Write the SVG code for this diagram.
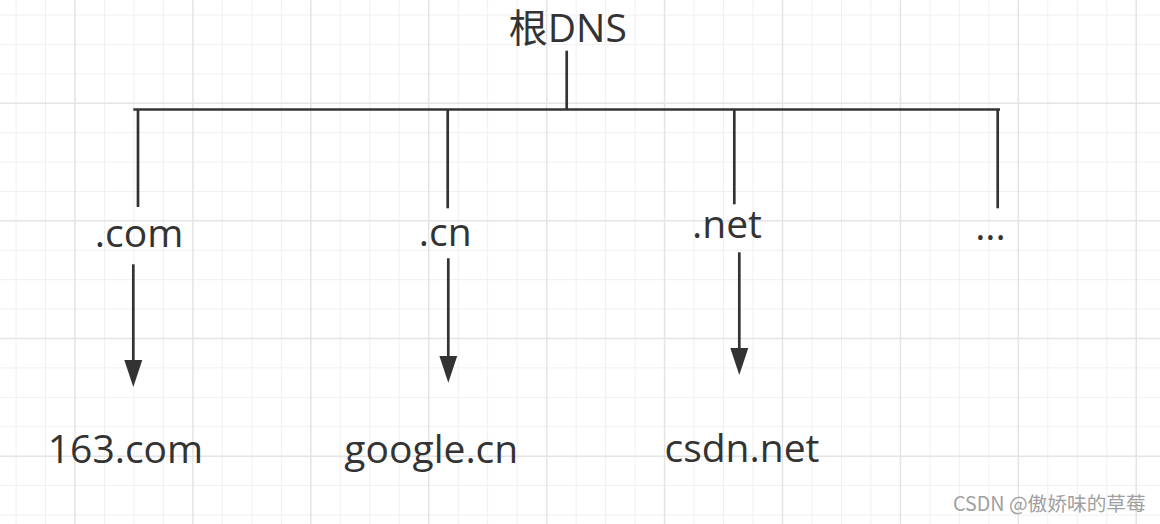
<svg xmlns="http://www.w3.org/2000/svg" width="1160" height="524" viewBox="0 0 1160 524">
<defs>
<style>
.minor{stroke:#f0f0f0;stroke-width:1;fill:none}
.major{stroke:#e4e4e4;stroke-width:1.5;fill:none}
.ln{stroke:#333;stroke-width:2.7;fill:none}
.lbl{font-family:"Open Sans","Noto Sans CJK SC",sans-serif;font-size:39px;fill:#333;text-anchor:middle}
.wm{font-family:"Noto Sans CJK SC",sans-serif;font-size:19.7px;fill:#a0a0a0}
</style>
<marker id="ah" markerUnits="userSpaceOnUse" markerWidth="28" markerHeight="20" viewBox="0 -10 28 20" refX="7" refY="0" orient="auto">
<path d="M0,-9 L27,0 L0,9 Z" fill="#333"/>
</marker>
</defs>
<rect width="1160" height="524" fill="#fff"/>
<g id="grid">
<path class="minor" d="M16,0V524M45.48,0V524M104.44,0V524M133.92,0V524M163.4,0V524M222.36,0V524M251.84,0V524M281.32,0V524M340.28,0V524M369.76,0V524M399.24,0V524M458.2,0V524M487.68,0V524M517.16,0V524M576.12,0V524M605.6,0V524M635.08,0V524M694.04,0V524M723.52,0V524M753,0V524M811.96,0V524M841.44,0V524M870.92,0V524M929.88,0V524M959.36,0V524M988.84,0V524M1047.8,0V524M1077.28,0V524M1106.76,0V524
M0,15H1160M0,44.41H1160M0,73.82H1160M0,132.64H1160M0,162.05H1160M0,191.46H1160M0,250.28H1160M0,279.69H1160M0,309.1H1160M0,367.92H1160M0,397.33H1160M0,426.74H1160M0,485.56H1160M0,514.97H1160"/>
<path class="major" d="M74.96,0V524M192.88,0V524M310.8,0V524M428.72,0V524M546.64,0V524M664.56,0V524M782.48,0V524M900.4,0V524M1018.32,0V524M1136.24,0V524
M0,103.23H1160M0,220.87H1160M0,338.51H1160M0,456.15H1160"/>
</g>
<g id="connectors">
<path class="ln" d="M566.7,50.7V109.5"/>
<path class="ln" d="M133.3,109.5H1000"/>
<path class="ln" d="M138,109.5V207"/>
<path class="ln" d="M447.7,109.5V208.3"/>
<path class="ln" d="M734.3,109.5V204.3"/>
<path class="ln" d="M997.7,109.5V208.3"/>
<path class="ln" d="M133.3,264.3V367" marker-end="url(#ah)"/>
<path class="ln" d="M448.3,258.3V362.7" marker-end="url(#ah)"/>
<path class="ln" d="M739.3,252.3V355" marker-end="url(#ah)"/>
</g>
<g id="node-root"><text class="lbl" x="567.8" y="42">根DNS</text></g>
<g id="node-com"><text class="lbl" x="139" y="246.7">.com</text></g>
<g id="node-cn"><text class="lbl" x="445.3" y="246">.cn</text></g>
<g id="node-net"><text class="lbl" x="727" y="238.3">.net</text></g>
<g id="node-more"><text class="lbl" x="990.5" y="239.5">...</text></g>
<g id="node-163"><text class="lbl" x="125.5" y="462.7">163.com</text></g>
<g id="node-google"><text class="lbl" x="431.3" y="462.7">google.cn</text></g>
<g id="node-csdn"><text class="lbl" x="742" y="461.7">csdn.net</text></g>
<g id="watermark"><text class="wm" x="953" y="511">CSDN @傲娇味的草莓</text></g>
</svg>
